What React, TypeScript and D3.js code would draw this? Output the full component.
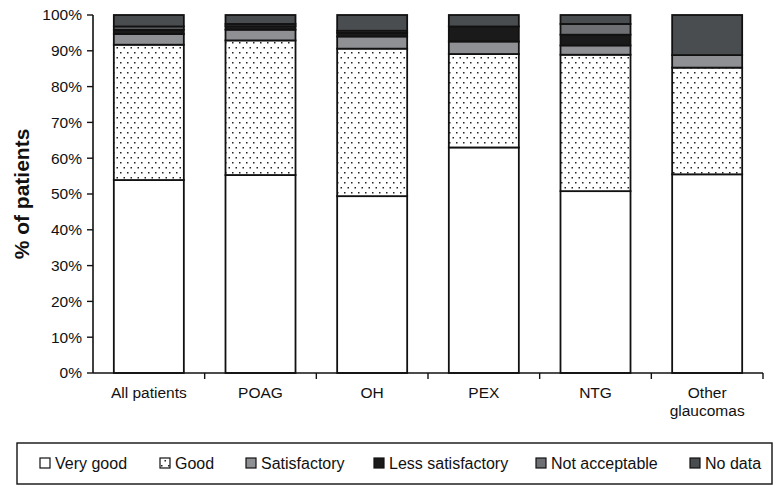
import React from "react";
import * as d3 from "d3";

// categories and stacked percentages
const categories = ["All patients", "POAG", "OH", "PEX", "NTG", "Other glaucomas"];
const keys = ["Very good", "Good", "Satisfactory", "Less satisfactory", "Not acceptable", "No data"];

const veryGood = [53.9, 55.3, 49.4, 63.0, 50.8, 55.5];
const good = [37.8, 37.6, 41.2, 26.1, 38.1, 29.8];
const satisfactory = [3.0, 3.0, 3.4, 3.5, 2.6, 3.5];
const lessSatisfactory = [1.2, 1.0, 1.0, 4.2, 3.0, 0];
const notAcceptable = [0.9, 0.6, 0.6, 0, 3.0, 0];
const noData = [3.2, 2.5, 4.4, 3.2, 2.5, 11.2];

const yTicks = [0, 10, 20, 30, 40, 50, 60, 70, 80, 90, 100];

const fills: Record<string, string> = {
  "Very good": "#ffffff",
  Good: "url(#dots)",
  Satisfactory: "#8e9093",
  "Less satisfactory": "#1a1a1a",
  "Not acceptable": "#6d6f72",
  "No data": "#4a4d50",
};

// legend x positions (square left edge)
const legendX = [40, 160, 246, 374, 536, 690];

export default function App() {
  const width = 776;
  const height = 491;
  const margin = { top: 15, left: 93, right: 13, bottom: 118 };
  const font = "Arial, 'Liberation Sans', Helvetica, sans-serif";

  const rows = categories.map((c, i) => ({
    cat: c,
    "Very good": veryGood[i],
    Good: good[i],
    Satisfactory: satisfactory[i],
    "Less satisfactory": lessSatisfactory[i],
    "Not acceptable": notAcceptable[i],
    "No data": noData[i],
  }));

  const series = d3.stack<any>().keys(keys)(rows);

  const x = d3
    .scaleBand()
    .domain(categories)
    .range([margin.left, width - margin.right])
    .padding(0);
  const y = d3
    .scaleLinear()
    .domain([0, 100])
    .range([height - margin.bottom, margin.top]);

  const barW = x.bandwidth() * 0.627;
  const y0 = y(0);

  return (
    <svg
      width={width}
      height={height}
      style={{ position: "absolute", left: 0, top: 0, background: "#fff" }}
      fontFamily={font}
    >
      <defs>
        <pattern id="dots" width="7" height="10" patternUnits="userSpaceOnUse">
          <rect width="7" height="10" fill="#fff" />
          <rect x="1" y="2" width="1.5" height="1.5" fill="#222" />
          <rect x="4.5" y="7" width="1.5" height="1.5" fill="#222" />
        </pattern>
      </defs>

      {/* bars */}
      {series.map((s) => (
        <g key={s.key} fill={fills[s.key]} stroke="#111" strokeWidth={1.8}>
          {s.map((d, i) =>
            d[1] - d[0] > 0 ? (
              <rect
                key={i}
                x={x(categories[i])! + (x.bandwidth() - barW) / 2}
                y={y(d[1])}
                width={barW}
                height={y(d[0]) - y(d[1])}
              />
            ) : null
          )}
        </g>
      ))}

      {/* y axis */}
      <line x1={margin.left} x2={margin.left} y1={y(100)} y2={y0} stroke="#111" strokeWidth={1.6} />
      {yTicks.map((t) => (
        <g key={t}>
          <line x1={margin.left - 6} x2={margin.left} y1={y(t)} y2={y(t)} stroke="#111" strokeWidth={1.4} />
          <text x={margin.left - 11} y={y(t)} dy="0.35em" textAnchor="end" fontSize={15.5} fill="#111">
            {t}%
          </text>
        </g>
      ))}

      {/* x axis */}
      <line x1={margin.left} x2={width - margin.right} y1={y0} y2={y0} stroke="#111" strokeWidth={1.6} />
      {categories.map((c, i) => (
        <line
          key={"t" + i}
          x1={x(c)! + x.bandwidth()}
          x2={x(c)! + x.bandwidth()}
          y1={y0}
          y2={y0 + 6}
          stroke="#111"
          strokeWidth={1.4}
        />
      ))}
      {categories.map((c) => {
        const cx = x(c)! + x.bandwidth() / 2;
        const parts = c === "Other glaucomas" ? ["Other", "glaucomas"] : [c];
        return (
          <text key={c} x={cx} y={y0 + 25} textAnchor="middle" fontSize={15.5} fill="#111">
            {parts.map((p, j) => (
              <tspan key={j} x={cx} dy={j === 0 ? 0 : 18}>
                {p}
              </tspan>
            ))}
          </text>
        );
      })}

      {/* y title */}
      <text
        transform={`translate(22,${(y(100) + y0) / 2}) rotate(-90)`}
        textAnchor="middle"
        dy="0.35em"
        fontSize={21}
        fontWeight="bold"
        fill="#111"
      >
        % of patients
      </text>

      {/* legend */}
      <rect x={17} y={443} width={755} height={41} fill="#fff" stroke="#111" strokeWidth={1.4} />
      {keys.map((k, i) => (
        <g key={k} transform={`translate(${legendX[i]},463)`}>
          <rect x={0} y={-5} width={10} height={10} fill={fills[k]} stroke="#111" strokeWidth={1.2} />
          <text x={15} dy="0.35em" fontSize={16} fill="#111">
            {k}
          </text>
        </g>
      ))}
    </svg>
  );
}
